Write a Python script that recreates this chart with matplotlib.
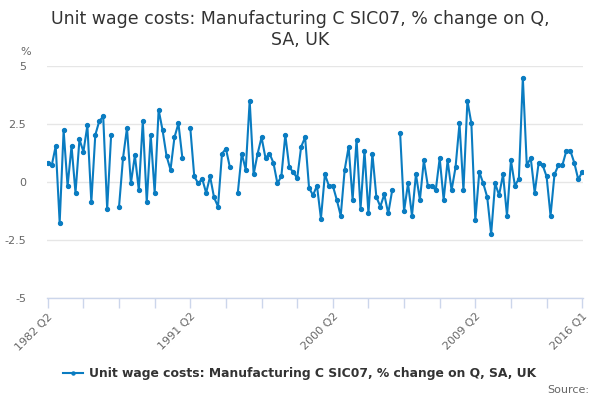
import numpy as np
import matplotlib.pyplot as plt
from matplotlib.lines import Line2D

# quarterly values, 1982 Q2 .. 2016 Q1 (nan = missing)
values = [
    0.82, 0.71, 1.54, -1.77, 2.22, -0.19, 1.54, -0.48, 1.83, 1.30,
    2.43, -0.88, 2.02, 2.62, 2.82, -1.18, 2.02, np.nan, -1.07, 1.02,
    2.32, -0.07, 1.14, -0.37, 2.62, -0.88, 2.02, -0.48, 3.11, 2.22,
    1.11, 0.52, 1.92, 2.52, 1.02, np.nan, 2.32, 0.23, -0.07, 0.13,
    -0.48, 0.23, -0.68, -1.07, 1.21, 1.43, 0.62, np.nan, -0.48, 1.22,
    0.52, 3.50, 0.32, 1.21, 1.92, 1.02, 1.22, 0.82, -0.07, 0.23,
    2.02, 0.62, 0.42, 0.15, 1.51, 1.92, -0.27, -0.58, -0.17, -1.59,
    0.32, -0.17, -0.17, -0.78, -1.47, 0.52, 1.51, -0.78, 1.82, -1.18,
    1.33, -1.37, 1.21, -0.66, -1.07, -0.55, -1.37, -0.37, np.nan, 2.12,
    -1.27, -0.07, -1.47, 0.32, -0.78, 0.92, -0.17, -0.17, -0.37, 1.02,
    -0.78, 0.92, -0.37, 0.62, 2.52, -0.37, 3.50, 2.52, -1.67, 0.42,
    -0.07, -0.66, -2.26, -0.07, -0.58, 0.32, -1.47, 0.92, -0.17, 0.13,
    4.50, 0.72, 1.02, -0.48, 0.82, 0.72, 0.23, -1.47, 0.32, 0.72,
    0.72, 1.34, 1.34, 0.82, 0.10, 0.42,
]
tick_labels = ["1982 Q2", "1991 Q2", "2000 Q2", "2009 Q2", "2016 Q1"]
label_pos = [0, 36, 72, 108, 135]

title = "Unit wage costs: Manufacturing C SIC07, % change on Q, SA, UK"
blue = "#0a7cc1"

plt.rcParams['font.family'] = ['DejaVu Sans']
fig = plt.figure(figsize=(6, 4), dpi=100)
ax = fig.add_axes([47 / 600, 1 - 297.5 / 400, 536 / 600, 231.5 / 400])

x = np.arange(len(values))
ax.plot(x, values, color=blue, lw=1.5, marker='o', ms=2.8)

ax.set_xlim(-0.2, 135.2)
ax.set_ylim(-5, 5)
ax.set_yticks([-5, -2.5, 0, 2.5, 5])
ax.set_yticklabels(["-5", "-2.5", "0", "2.5", "5"])
ax.yaxis.grid(True, color="#e6e6e6", lw=1)
ax.set_axisbelow(True)
ax.tick_params(axis='y', length=0, labelsize=8, labelcolor="#666666", pad=15)

# small ticks every 9 quarters, labels every 36
ax.set_xticks(np.arange(0, 136, 9), minor=True)
ax.set_xticks(label_pos)
ax.set_xticklabels(tick_labels, rotation=45, ha='right', rotation_mode='anchor')
ax.tick_params(axis='x', which='both', length=7, color="#ccd6eb", width=1,
               labelsize=8, labelcolor="#666666", pad=3)

for s in ['top', 'right', 'left']:
    ax.spines[s].set_visible(False)
ax.spines['bottom'].set_color("#ccd6eb")
ax.spines['bottom'].set_linewidth(1)

fig.text(0.5, 1 - 19 / 400, "Unit wage costs: Manufacturing C SIC07, % change on Q,",
         ha='center', va='center', fontsize=12.5, color="#333333")
fig.text(0.5, 1 - 40 / 400, "SA, UK", ha='center', va='center',
         fontsize=12.5, color="#333333")
fig.text(26 / 600, 1 - 52 / 400, "%", ha='center', va='center',
         fontsize=8, color="#666666")

handle = Line2D([], [], color=blue, lw=1.5, marker='o', ms=2.2)
fig.legend([handle], [title], loc='center', bbox_to_anchor=(0.5, 1 - 374 / 400),
           frameon=False, prop={'weight': 'bold', 'size': 8.9},
           handlelength=1.6, handletextpad=0.5, labelcolor="#333333")
fig.text(589 / 600, 1 - 390 / 400, "Source:", ha='right', va='center',
         fontsize=8, color="#666666")

fig.savefig("out.png", dpi=100)
